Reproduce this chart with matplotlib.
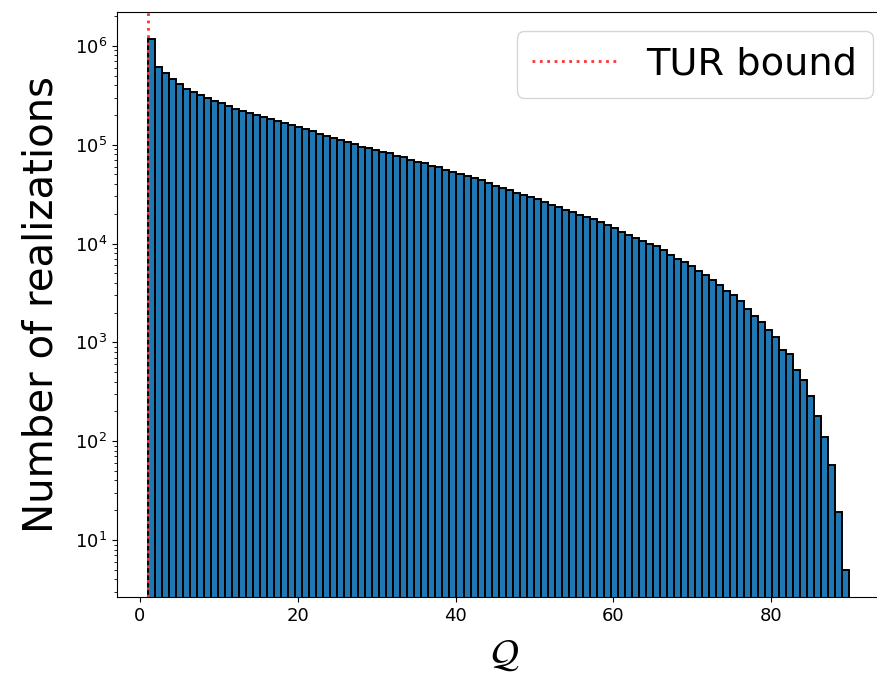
import numpy as np
import matplotlib
matplotlib.use("Agg")
import matplotlib.pyplot as plt

# Histogram definition
q_min = 1.0
q_max = 89.9
n_bins = 100
tur_bound = 1.0

counts = [
    1169000, 604000, 525000, 457000, 410000, 368000, 341000, 315000, 294000, 278000,
    261000, 246000, 231000, 220000, 210000, 201000, 192000, 183000, 175000, 167000,
    159000, 152000, 144000, 136000, 128000, 121000, 117000, 112000, 105500, 101600,
    95400, 92600, 88400, 85000, 81700, 77400, 74400, 70100, 67300, 64700,
    61400, 59000, 55900, 53400, 50600, 47800, 45700, 43600, 40700, 38500,
    36500, 34900, 32700, 31000, 29800, 28000, 26400, 24800, 23300, 22000,
    21000, 19600, 18700, 17500, 16400, 15300, 14400, 13000, 12200, 11400,
    10500, 10000, 9540, 8500, 7740, 6890, 6470, 5860, 5210, 4750,
    4300, 3830, 3270, 2980, 2600, 2190, 1830, 1600, 1320, 1120,
    830, 756, 530, 413, 285, 179, 109, 57, 19, 5,
]

edges = np.linspace(q_min, q_max, n_bins + 1)
centers = 0.5 * (edges[:-1] + edges[1:])

fig = plt.figure(figsize=(8.78, 6.76), dpi=100)
ax = fig.add_axes([117 / 878, 79 / 676, 775 / 878, 585 / 676])

ax.hist(centers, bins=edges, weights=counts, log=True,
        color="#1f77b4", edgecolor="black", linewidth=1.4)
ax.axvline(tur_bound, color="#ff3333", linestyle=":", linewidth=2.0, label="TUR bound")

ax.set_xlim(-2.9, 95.3)
ax.set_ylim(2.65, 2.2e6)
ax.set_xticks([0, 20, 40, 60, 80])
ax.tick_params(axis="both", labelsize=13)
ax.set_xlabel(r"$\mathcal{Q}$", fontsize=28, labelpad=8)
ax.set_ylabel("Number of realizations", fontsize=29, labelpad=10)
ax.legend(fontsize=27.5, loc="upper right", handlelength=2.2)

fig.savefig("out.png", dpi=100)
